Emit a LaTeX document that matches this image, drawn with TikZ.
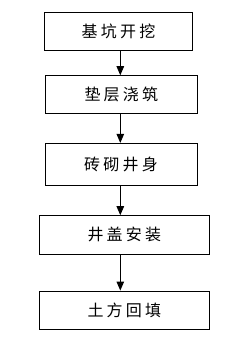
\documentclass[tikz,border=0pt]{standalone}
\usepackage{fontspec}
\newfontfamily\cjk{Noto Sans CJK SC}
\usetikzlibrary{arrows.meta}
\newcommand{\gp}{\kern3.2pt}
\begin{document}
\begin{tikzpicture}[x=1pt,y=-1pt,
  box/.style={draw=black, line width=0.9pt, inner sep=0pt, font=\cjk\fontsize{16}{18}\selectfont, text=black},
  arr/.style={draw=black, line width=0.9pt, -{Triangle[width=7.5pt,length=9pt]}}]
\useasboundingbox (0,0) rectangle (240,342);
\node[box, minimum width=147.6pt, minimum height=38pt] (b1) at (118.5,31.3) {基\gp 坑\gp 开\gp 挖};
\node[box, minimum width=152pt, minimum height=37.6pt] (b2) at (121.3,94.5) {垫\gp 层\gp 浇\gp 筑};
\node[box, minimum width=152pt, minimum height=41.7pt] (b3) at (121,164.2) {砖\gp 砌\gp 井\gp 身};
\node[box, minimum width=170pt, minimum height=38.3pt] (b4) at (124.3,234.8) {井\gp 盖\gp 安\gp 装};
\node[box, minimum width=170pt, minimum height=38pt] (b5) at (124.3,310) {土\gp 方\gp 回\gp 填};
\coordinate (ax) at (120.3,0);
\draw[arr] (b1.south -| ax) -- (b2.north -| ax);
\draw[arr] (b2.south -| ax) -- (b3.north -| ax);
\draw[arr] (b3.south -| ax) -- (b4.north -| ax);
\draw[arr] (b4.south -| ax) -- (b5.north -| ax);
\end{tikzpicture}
\end{document}
